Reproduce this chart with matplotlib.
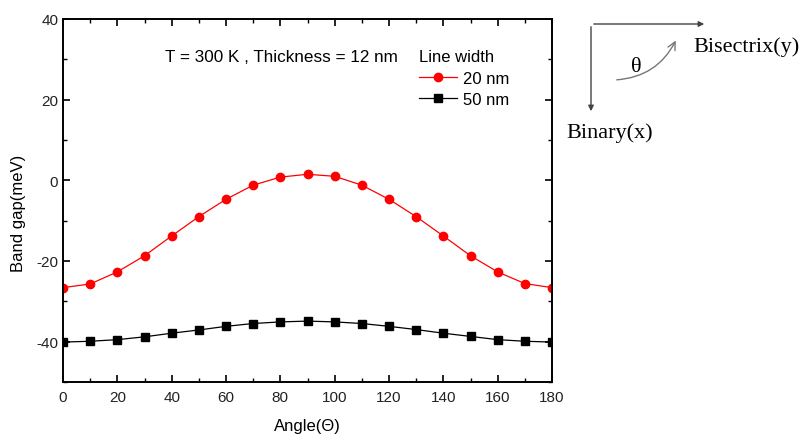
import matplotlib
matplotlib.use("Agg")
import matplotlib.pyplot as plt
from matplotlib.ticker import MultipleLocator
from matplotlib.patches import FancyArrowPatch

angle = [0, 10, 20, 30, 40, 50, 60, 70, 80, 90, 100, 110, 120, 130, 140, 150, 160, 170, 180]
gap_20nm = [-26.6, -25.7, -22.7, -18.7, -13.8, -9.0, -4.7, -1.2, 0.8, 1.5,
            1.0, -1.2, -4.7, -9.0, -13.8, -18.7, -22.7, -25.6, -26.6]
gap_50nm = [-40.1, -39.9, -39.5, -38.8, -37.9, -37.1, -36.2, -35.5, -35.1, -34.9,
            -35.1, -35.5, -36.2, -37.0, -37.9, -38.7, -39.5, -39.9, -40.1]
series_labels = ["20 nm", "50 nm"]

plt.rcParams['font.family'] = ['Liberation Sans', 'DejaVu Sans']
plt.rcParams['axes.unicode_minus'] = False

W, H = 799, 435
fig = plt.figure(figsize=(W/100, H/100), dpi=100)
ax = fig.add_axes([63/W, 1-383/H, (552-63)/W, (383-20)/H])

ax.plot(angle, gap_20nm, color='#ff0000', lw=0.9, marker='o', ms=6,
        label=series_labels[0])
ax.plot(angle, gap_50nm, color='black', lw=0.9, marker='s', ms=5.5,
        label=series_labels[1])

ax.set_xlim(0, 180)
ax.set_ylim(-50, 40)
ax.xaxis.set_major_locator(MultipleLocator(20))
ax.xaxis.set_minor_locator(MultipleLocator(10))
ax.yaxis.set_major_locator(MultipleLocator(20))
ax.yaxis.set_minor_locator(MultipleLocator(10))
ax.tick_params(which='both', direction='in', top=True, right=True,
               labelsize=11, colors='black', labelcolor='#222222')
ax.tick_params(which='major', length=5, width=1.2)
ax.tick_params(which='minor', length=3, width=1.0)
ax.tick_params(axis='x', pad=6)
for s in ax.spines.values():
    s.set_linewidth(1.4)

ax.set_xlabel('Angle(Θ)', fontsize=12, labelpad=10)
ax.set_ylabel('Band gap(meV)', fontsize=12)
ax.yaxis.set_label_coords(-0.076, 0.468)

fig.text(165/W, 1-57/H, 'T = 300 K , Thickness = 12 nm',
         fontsize=12.3, va='center', ha='left')

leg = ax.legend(title='Line width', loc='upper left',
                bbox_to_anchor=(419/W, 1-50/H), bbox_transform=fig.transFigure,
                frameon=False, fontsize=12, title_fontsize=12,
                handlelength=2.3, handletextpad=0.35,
                labelspacing=0.38, borderaxespad=0.0, borderpad=0.0)
leg._legend_box.align = 'left'
leg._legend_box.sep = 5

# orientation sketch on the right
fig.add_artist(FancyArrowPatch((591/W, 1-25/H), (591/W, 1-115/H),
               transform=fig.transFigure, arrowstyle='-|>', mutation_scale=8,
               color='#444444', lw=1.0))
fig.add_artist(FancyArrowPatch((591/W, 1-25/H), (707/W, 1-25/H),
               transform=fig.transFigure, arrowstyle='-|>', mutation_scale=8,
               color='#444444', lw=1.0))
fig.add_artist(FancyArrowPatch((614/W, 1-81/H), (677/W, 1-39/H),
               transform=fig.transFigure, arrowstyle='->', mutation_scale=14,
               connectionstyle='arc3,rad=0.3', color='#777777', lw=1.0))
serif = ['Liberation Serif', 'DejaVu Serif']
fig.text(693/W, 1-47/H, 'Bisectrix(y)', family=serif, fontsize=16, va='center')
fig.text(636/W, 1-68/H, 'θ', family=serif, fontsize=16, va='center', ha='center')
fig.text(566/W, 1-133/H, 'Binary(x)', family=serif, fontsize=16, va='center')

fig.savefig('out.png', dpi=100)
